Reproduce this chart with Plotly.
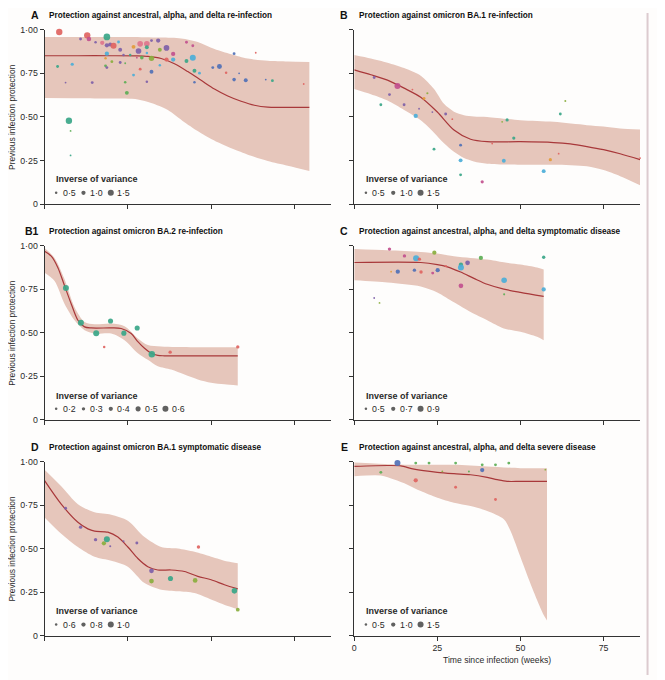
import plotly.graph_objects as go

# ---------------- DATA ----------------
# Panel A: ancestral, alpha, delta re-infection
a_x = [4.4,3.9,6.3,7.3,7.8,7.8,8.3,10.8,12.8,13.3,14.3,15.3,17.3,18.7,18.7,18.7,18.3,18.3,18.7,19.7,20.7,20.2,22.2,22.7,22.7,23.7,24.2,24.2,24.7,25.7,26.7,26.7,28.2,27.7,28.7,28.7,29.2,30.7,30.7,30.7,30.7,32.1,32.1,32.1,34.1,34.6,34.6,36.6,36.6,38.6,38.6,42.6,42.6,44.5,44.5,45.0,45.0,46.5,50.5,52.5,54.5,56.9,56.9,58.4,60.4,63.4,66.4,68.4,77.8]
a_y = [0.987,0.789,0.697,0.478,0.42,0.279,0.802,0.947,0.968,0.947,0.697,0.928,0.925,0.959,0.911,0.863,0.836,0.793,0.783,0.915,0.908,0.817,0.93,0.885,0.812,0.855,0.808,0.699,0.638,0.855,0.902,0.74,0.878,0.84,0.919,0.774,0.84,0.919,0.9,0.866,0.702,0.938,0.836,0.759,0.938,0.885,0.797,0.896,0.829,0.861,0.829,0.928,0.821,0.84,0.908,0.765,0.699,0.751,0.783,0.789,0.753,0.863,0.714,0.75,0.71,0.868,0.714,0.708,0.689]
a_w = [1.6,0.6,0.3,1.6,0.3,0.3,0.7,0.6,1.6,1.1,0.6,0.5,1.0,1.7,1.0,1.0,0.5,0.6,0.6,0.9,1.5,0.6,0.6,0.9,0.6,0.5,0.3,0.5,0.9,0.5,0.9,0.6,1.4,0.3,1.4,0.6,0.8,1.4,0.9,0.5,0.5,0.6,1.3,0.9,1.0,0.9,0.5,1.4,1.0,1.0,1.0,0.6,0.9,1.5,0.6,0.9,0.5,0.6,0.6,1.2,0.5,0.6,0.8,0.3,0.9,0.3,0.3,0.6,0.3]
a_study = list("rtptgtcprmppktpcogpprlcpppgggtocpmkrgktcpplbplcprmcmtcmtbcbbrbbbbrbtro")
a_band_ux = [0,10,20,30,35,41,46,51,56,61,67,73,79.5]
a_band_u = [0.958,0.958,0.958,0.957,0.955,0.95,0.93,0.89,0.86,0.835,0.822,0.818,0.815]
a_band_lx = [0,10,20,28,32,37,42,47,52,57,62,67,73,79.5]
a_band_l = [0.608,0.607,0.605,0.6,0.58,0.54,0.47,0.407,0.355,0.313,0.277,0.247,0.22,0.19]
a_line_x = [0,10,20,28,31,35,39,43,47,51,55,59,63,67,72,79.5]
a_line_y = [0.851,0.851,0.851,0.85,0.847,0.835,0.805,0.76,0.71,0.66,0.62,0.59,0.567,0.556,0.555,0.555]

# Panel B: omicron BA.1 re-infection
b_x = [6,8,10.6,13,15,17.5,18.5,19.5,21,22,23.5,24,27.5,29.5,32,32,32,38.5,41.5,44.5,46,45,48,57,59,61.5,62,63.5,86]
b_y = [0.726,0.57,0.628,0.677,0.57,0.657,0.506,0.547,0.606,0.636,0.528,0.315,0.517,0.487,0.338,0.251,0.168,0.128,0.347,0.472,0.483,0.249,0.379,0.189,0.255,0.289,0.517,0.592,0.264]
b_w = [0.6,0.6,0.6,1.5,0.6,0.3,1.0,0.3,0.6,0.4,0.3,0.6,0.6,0.25,0.6,0.9,0.6,0.7,0.3,0.3,0.7,0.9,0.7,0.9,0.7,0.3,0.6,0.35,0.3]
b_study = list("ptpmprcpolptprbctmrltctcortlr")
b_band_ux = [0,5,10,15,20,24,27,30,33,36,40,50,60,70,75,80,86]
b_band_u = [0.855,0.835,0.811,0.78,0.736,0.66,0.575,0.53,0.51,0.503,0.5,0.481,0.472,0.453,0.445,0.434,0.428]
b_band_lx = [0,5,10,15,20,24,27,30,33,36,40,50,60,70,75,80,86]
b_band_l = [0.66,0.63,0.594,0.54,0.481,0.41,0.349,0.3,0.264,0.245,0.232,0.226,0.226,0.217,0.195,0.16,0.108]
b_line_x = [0,5,10,15,20,25,30,35,40,50,60,65,70,75,80,86]
b_line_y = [0.77,0.742,0.711,0.665,0.613,0.528,0.425,0.372,0.358,0.358,0.353,0.345,0.33,0.312,0.289,0.255]

# Panel B1: omicron BA.2 re-infection
b1_x = [6.4,10.9,15.5,17.9,19.8,23.8,27.8,32.2,37.7,58]
b1_y = [0.757,0.558,0.498,0.419,0.568,0.498,0.528,0.377,0.389,0.419]
b1_w = [0.6,0.6,0.6,0.2,0.5,0.5,0.5,0.65,0.3,0.3]
b1_study = list("tttrttttrr")
b1_band_ux = [0,3,6,9,12,15,20,24,28,31,35,45,58]
b1_band_u = [0.987,0.93,0.808,0.647,0.562,0.549,0.553,0.538,0.468,0.43,0.421,0.417,0.417]
b1_band_lx = [0,3,6,9,12,15,20,24,28,31,34,38,42,46,50,54,58]
b1_band_l = [0.845,0.798,0.666,0.572,0.515,0.496,0.496,0.458,0.383,0.345,0.308,0.289,0.26,0.232,0.213,0.204,0.198]
b1_line_x = [0,2,4,6,8,10,12,14,20,23,26,28,30,32,34,36,58]
b1_line_y = [0.968,0.94,0.874,0.77,0.666,0.572,0.534,0.528,0.528,0.525,0.496,0.449,0.411,0.383,0.37,0.368,0.368]

# Panel C: ancestral, alpha, delta symptomatic disease
c_x = [6,7.6,10.6,11.1,13.1,15.1,18.1,18.6,19.6,20.1,23.6,24.1,25.1,27.6,32.1,32.1,32.1,34.1,38.1,45.1,45.1,57,57]
c_y = [0.7,0.672,0.981,0.851,0.851,0.942,0.86,0.928,0.923,0.849,0.843,0.96,0.86,0.883,0.891,0.875,0.77,0.902,0.93,0.802,0.721,0.934,0.749]
c_w = [0.4,0.4,0.6,0.4,0.7,0.6,0.6,0.9,0.6,0.6,0.55,0.7,0.7,0.45,0.7,0.9,0.75,0.75,0.7,0.85,0.45,0.6,0.7]
c_study = list("plmobmbcrrmlbrtcmpgcgtc")
c_band_ux = [0,10,20,25,30,35,40,45,50,55,57]
c_band_u = [0.981,0.974,0.964,0.955,0.94,0.93,0.921,0.905,0.892,0.875,0.864]
c_band_lx = [0,10,20,25,30,35,40,45,50,55,57]
c_band_l = [0.802,0.789,0.766,0.732,0.675,0.619,0.572,0.525,0.506,0.477,0.458]
c_line_x = [0,20,25,28,32,36,40,45,50,57]
c_line_y = [0.904,0.904,0.892,0.879,0.849,0.813,0.779,0.751,0.732,0.709]

# Panel D: omicron BA.1 symptomatic disease
d_x = [6.3,10.8,15.3,17.8,18.7,19.7,23.7,27.7,32.1,32.1,37.8,45.2,46.2,57,58]
d_y = [0.732,0.623,0.551,0.53,0.553,0.513,0.542,0.532,0.372,0.313,0.328,0.317,0.509,0.257,0.149]
d_w = [0.65,0.7,0.7,0.8,1.0,0.55,0.55,0.65,0.85,0.85,0.9,0.85,0.7,0.95,0.75]
d_study = list("pppltppppltlrtl")
d_band_ux = [0,5,10,15,20,25,30,35,40,45,50,55,58]
d_band_u = [0.953,0.858,0.755,0.708,0.694,0.66,0.566,0.509,0.5,0.481,0.453,0.425,0.415]
d_band_lx = [0,5,10,15,20,25,30,35,40,45,50,55,58]
d_band_l = [0.679,0.585,0.509,0.453,0.43,0.396,0.302,0.264,0.255,0.245,0.208,0.17,0.151]
d_line_x = [0,5,10,13,15,19,22,25,28,31,34,38,42,46,50,54,58]
d_line_y = [0.89,0.755,0.651,0.613,0.6,0.594,0.566,0.509,0.443,0.396,0.377,0.377,0.368,0.34,0.321,0.292,0.268]

# Panel E: ancestral, alpha, delta severe disease
e_x = [8,13,18.5,18.5,22.5,26.5,30.5,30.5,34.5,38.5,38.5,42.5,42.5,46.5,57.5]
e_y = [0.938,0.991,0.991,0.892,0.991,0.943,0.991,0.852,0.943,0.981,0.951,0.981,0.782,0.991,0.953]
e_w = [0.6,1.5,0.6,1.0,0.6,0.3,0.6,0.6,0.35,0.6,1.0,0.6,0.6,0.6,0.3]
e_study = list("gbgrglgrggbgrgl")
e_band_ux = [0,10,20,30,40,50,58]
e_band_u = [0.994,0.985,0.981,0.981,0.972,0.962,0.962]
e_band_lx = [0,8,12,16,20,25,30,35,40,45,47,50,53,55,57,58]
e_band_l = [0.915,0.919,0.896,0.867,0.83,0.792,0.763,0.744,0.716,0.669,0.602,0.451,0.299,0.205,0.119,0.087]
e_line_x = [0,10,14,18,25,30,35,40,43,46,50,58]
e_line_y = [0.972,0.977,0.975,0.956,0.938,0.93,0.924,0.909,0.896,0.886,0.886,0.886]

legend_A = [0.5, 1.0, 1.5]
legend_B = [0.5, 1.0, 1.5]
legend_B1 = [0.2, 0.3, 0.4, 0.5, 0.6]
legend_C = [0.5, 0.7, 0.9]
legend_D = [0.6, 0.8, 1.0]
legend_E = [0.5, 1.0, 1.5]

titles = {
    "A": "Protection against ancestral, alpha, and delta re-infection",
    "B": "Protection against omicron BA.1 re-infection",
    "B1": "Protection against omicron BA.2 re-infection",
    "C": "Protection against ancestral, alpha, and delta symptomatic disease",
    "D": "Protection against omicron BA.1 symptomatic disease",
    "E": "Protection against ancestral, alpha, and delta severe disease",
}
y_tickvals = [0, 0.25, 0.5, 0.75, 1.0]
y_ticktext = ["0", "0·25", "0·50", "0·75", "1·00"]
x_tickvals = [0, 25, 50, 75]
x_ticktext = ["0", "25", "50", "75"]
legend_title = "Inverse of variance"
y_title = "Previous infection protection"
x_title = "Time since infection (weeks)"

# ---------------- STYLE ----------------
PAGE_W, PAGE_H = 665, 680
OFF = 8  # default page margin of the html body
W, H = PAGE_W - OFF, PAGE_H - OFF
FONT = "Liberation Sans, Arial, sans-serif"
TXT = "#2a2a2a"
BAND = "#e6c6bb"
LINE = "#a8383a"
PAL = {"r": "#e06461", "m": "#c2508e", "p": "#7e60a8", "b": "#5070b6", "t": "#3aa688",
       "c": "#4caed8", "g": "#5cae55", "o": "#e39b3a", "l": "#8aae3e", "k": "#e0758c"}
XMAX = 86

cols_px = [(42.7, 330.0), (353.3, 640.0)]
rows_px = [(25.0, 202.0), (244.3, 421.0), (463.3, 640.0)]

def px_x(p): return (p - OFF) / W
def px_y(p): return 1 - (p - OFF) / H

panels = [
    ("A", 0, 0, a_x, a_y, a_w, a_study, a_band_ux, a_band_u, a_band_lx, a_band_l, a_line_x, a_line_y, legend_A),
    ("B", 0, 1, b_x, b_y, b_w, b_study, b_band_ux, b_band_u, b_band_lx, b_band_l, b_line_x, b_line_y, legend_B),
    ("B1", 1, 0, b1_x, b1_y, b1_w, b1_study, b1_band_ux, b1_band_u, b1_band_lx, b1_band_l, b1_line_x, b1_line_y, legend_B1),
    ("C", 1, 1, c_x, c_y, c_w, c_study, c_band_ux, c_band_u, c_band_lx, c_band_l, c_line_x, c_line_y, legend_C),
    ("D", 2, 0, d_x, d_y, d_w, d_study, d_band_ux, d_band_u, d_band_lx, d_band_l, d_line_x, d_line_y, legend_D),
    ("E", 2, 1, e_x, e_y, e_w, e_study, e_band_ux, e_band_u, e_band_lx, e_band_l, e_line_x, e_line_y, legend_E),
]

fig = go.Figure()
annotations = []
layout_axes = {}

for i, (key, r, c, px_, py_, pw, pst, bux, bu, blx, bl, lx, ly, leg) in enumerate(panels):
    n = i + 1
    xa = "x" if n == 1 else f"x{n}"
    ya = "y" if n == 1 else f"y{n}"
    w0, wl = leg[0], leg[-1]
    def size_of(w, w0=w0, wl=wl):
        return max(1.8, 2.5 + (w - w0) / (wl - w0) * 3.5)

    fig.add_trace(go.Scatter(x=blx, y=bl, mode="lines", line=dict(width=0, shape="spline", smoothing=0.8),
                             xaxis=xa, yaxis=ya, showlegend=False, hoverinfo="skip"))
    fig.add_trace(go.Scatter(x=bux, y=bu, mode="lines", line=dict(width=0, shape="spline", smoothing=0.8),
                             fill="tonexty", fillcolor=BAND, xaxis=xa, yaxis=ya, showlegend=False, hoverinfo="skip"))
    fig.add_trace(go.Scatter(x=lx, y=ly, mode="lines", line=dict(width=1.2, color=LINE, shape="spline", smoothing=0.8),
                             xaxis=xa, yaxis=ya, showlegend=False))
    fig.add_trace(go.Scatter(x=px_, y=py_, mode="markers", cliponaxis=False,
                             marker=dict(size=[size_of(w) for w in pw], color=[PAL[s] for s in pst],
                                         opacity=0.92, line=dict(width=0)),
                             xaxis=xa, yaxis=ya, showlegend=False))

    x0p, x1p = cols_px[c]
    t0p, b0p = rows_px[r]
    # legend dots
    base_px = 54.3 if c == 0 else 365.0
    step = 27.4
    item_y_px = t0p + 165.5
    lx_data = [((base_px + k * step) - x0p) / (x1p - x0p) * XMAX for k in range(len(leg))]
    ly_data = [(b0p - item_y_px) / (b0p - t0p)] * len(leg)
    fig.add_trace(go.Scatter(x=lx_data, y=ly_data, mode="markers", cliponaxis=False,
                             marker=dict(size=[size_of(w) for w in leg], color="#1e1e1e", line=dict(width=0)),
                             xaxis=xa, yaxis=ya, showlegend=False, hoverinfo="skip"))
    for k, w in enumerate(leg):
        annotations.append(dict(x=px_x(base_px + k * step + 4.5), y=px_y(item_y_px), xref="paper", yref="paper",
                                text=f"{w:.1f}".replace(".", "·"), showarrow=False, xanchor="left", yanchor="middle",
                                font=dict(family=FONT, size=8.8, color=TXT)))
    annotations.append(dict(x=px_x(base_px - 2), y=px_y(t0p + 152), xref="paper", yref="paper",
                            text=f"<b>{legend_title}</b>", showarrow=False, xanchor="left", yanchor="middle",
                            font=dict(family=FONT, size=9, color=TXT)))
    # titles
    annotations.append(dict(x=px_x(x0p - 4), y=px_y(t0p - 14.5), xref="paper", yref="paper",
                            text=f"<b>{key}</b>", showarrow=False, xanchor="right", yanchor="middle",
                            font=dict(family=FONT, size=10.5, color="#111")))
    annotations.append(dict(x=px_x(x0p + 2.5), y=px_y(t0p - 14.5), xref="paper", yref="paper",
                            text=f"<b>{titles[key]}</b>", showarrow=False, xanchor="left", yanchor="middle",
                            font=dict(family=FONT, size=8.2, color="#111")))
    if c == 0:
        annotations.append(dict(x=px_x(10), y=px_y((t0p + b0p) / 2), xref="paper", yref="paper",
                                text=y_title, showarrow=False, textangle=-90, xanchor="center", yanchor="middle",
                                font=dict(family=FONT, size=8.4, color=TXT)))

    axis_common = dict(showgrid=False, zeroline=False, showline=True, linecolor="#333", linewidth=1,
                       ticks="outside", tickcolor="#333", ticklen=4, tickwidth=1,
                       tickfont=dict(family=FONT, size=8.8, color=TXT))
    layout_axes["xaxis" if n == 1 else f"xaxis{n}"] = dict(
        axis_common, domain=[px_x(x0p), px_x(x1p)], range=[0, XMAX], anchor=ya,
        tickvals=x_tickvals, ticktext=x_ticktext, showticklabels=(key == "E"))
    layout_axes["yaxis" if n == 1 else f"yaxis{n}"] = dict(
        axis_common, domain=[px_y(b0p), px_y(t0p)], range=[0, 1], anchor=xa,
        tickvals=y_tickvals, ticktext=y_ticktext, showticklabels=(c == 0))

annotations.append(dict(x=px_x(496.5), y=px_y(665), xref="paper", yref="paper", text=x_title,
                        showarrow=False, xanchor="center", yanchor="middle",
                        font=dict(family=FONT, size=8.6, color=TXT)))

fig.update_layout(width=W, height=H, margin=dict(l=0, r=0, t=0, b=0),
                  paper_bgcolor="#fefdfc", plot_bgcolor="rgba(0,0,0,0)",
                  annotations=annotations, showlegend=False,
                  shapes=[dict(type="line", xref="paper", yref="paper", x0=px_x(647.5), x1=px_x(647.5),
                               y0=0, y1=1, line=dict(color="#dccbcf", width=2))],
                  **layout_axes)

fig.write_html("out.html")
